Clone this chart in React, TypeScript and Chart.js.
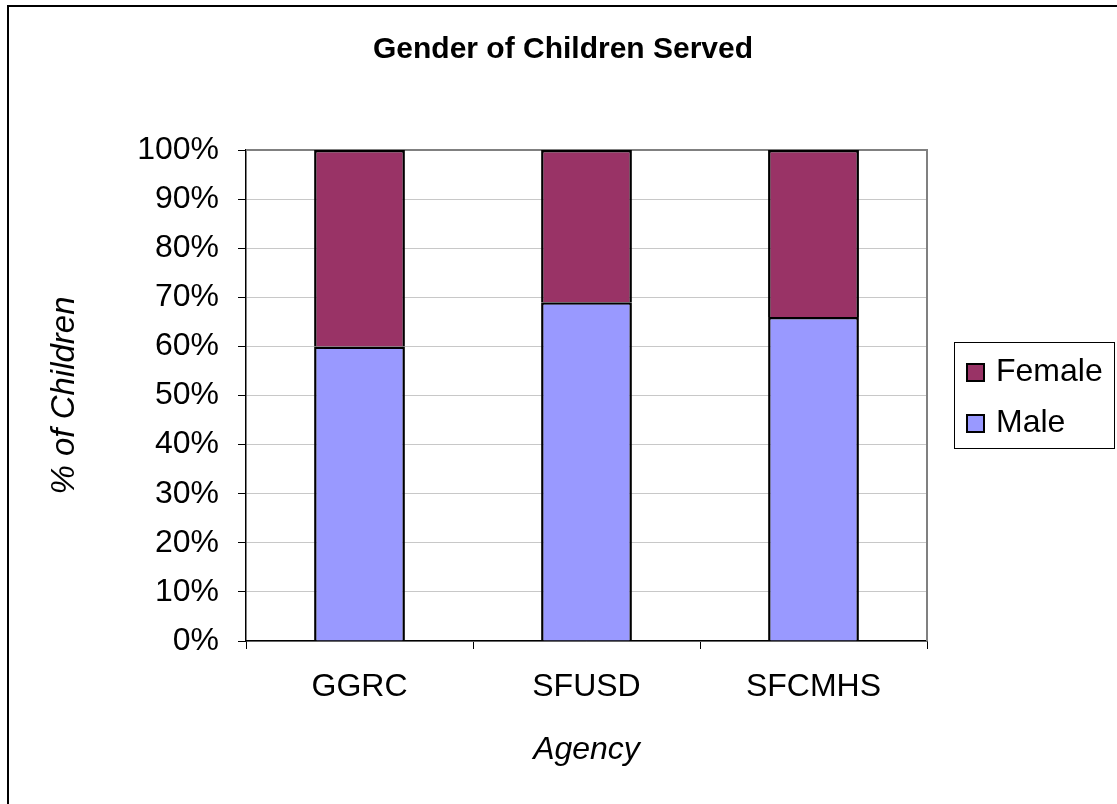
import React, { useEffect, useRef } from "react";
import { Chart, registerables } from "chart.js";

Chart.register(...registerables);

const categories = ["GGRC", "SFUSD", "SFCMHS"];
const maleValues = [60, 69, 66];
const femaleValues = [40, 31, 34];
const yTicks = [0, 10, 20, 30, 40, 50, 60, 70, 80, 90, 100];
const chartTitle = "Gender of Children Served";
const xTitle = "Agency";
const yTitle = "% of Children";

const FONT = "'Liberation Sans', Arial, sans-serif";

const framePlugin = {
  id: "frame",
  beforeDraw(chart: any) {
    const ctx = chart.ctx;
    ctx.save();
    ctx.fillStyle = "#ffffff";
    ctx.fillRect(0, 0, chart.width, chart.height);
    ctx.strokeStyle = "#000000";
    ctx.lineWidth = 2;
    ctx.strokeRect(8, 6, chart.width + 20, chart.height + 20);
    ctx.fillStyle = "#000";
    ctx.font = `bold 30px ${FONT}`;
    ctx.textAlign = "center";
    ctx.textBaseline = "middle";
    ctx.fillText(chartTitle, 563, 50);
    ctx.restore();
  },
  beforeDatasetsDraw(chart: any) {
    const { ctx, chartArea } = chart;
    ctx.save();
    ctx.strokeStyle = "#808080";
    ctx.lineWidth = 2;
    ctx.beginPath();
    ctx.moveTo(chartArea.left, chartArea.top);
    ctx.lineTo(chartArea.right, chartArea.top);
    ctx.lineTo(chartArea.right, chartArea.bottom);
    ctx.stroke();
    ctx.restore();
  },
  afterDraw(chart: any) {
    const ctx = chart.ctx;
    ctx.save();
    const bx = 954, by = 342, bw = 160, bh = 106;
    ctx.strokeStyle = "#000000";
    ctx.lineWidth = 1;
    ctx.strokeRect(bx + 0.5, by + 0.5, bw, bh);
    const items = chart.data.datasets
      .map((d: any) => ({ label: d.label, color: d.backgroundColor }))
      .reverse();
    ctx.font = `32px ${FONT}`;
    ctx.textBaseline = "middle";
    ctx.textAlign = "left";
    items.forEach((it: any, i: number) => {
      const cy = 371 + i * 51;
      ctx.fillStyle = it.color;
      ctx.fillRect(967, cy - 7, 17, 17);
      ctx.strokeStyle = "#000";
      ctx.lineWidth = 2;
      ctx.strokeRect(967, cy - 7, 17, 17);
      ctx.fillStyle = "#000";
      ctx.fillText(it.label, 996, cy + 1);
    });
    ctx.restore();
  },
};

export default function App() {
  const ref = useRef<HTMLCanvasElement | null>(null);
  useEffect(() => {
    document.body.style.margin = "0";
    document.body.style.overflow = "hidden";
    const chart = new Chart(ref.current as HTMLCanvasElement, {
      type: "bar",
      data: {
        labels: categories,
        datasets: [
          {
            label: "Male",
            data: maleValues,
            backgroundColor: "#9999FF",
            borderColor: "#000000",
            borderWidth: 2.5,
            barPercentage: 0.4,
            categoryPercentage: 1,
          },
          {
            label: "Female",
            data: femaleValues,
            backgroundColor: "#993366",
            borderColor: "#000000",
            borderWidth: 2.5,
            barPercentage: 0.4,
            categoryPercentage: 1,
          },
        ],
      },
      options: {
        responsive: false,
        animation: false,
        layout: { padding: { left: 0, right: 190, top: 150, bottom: 0 } },
        plugins: {
          legend: { display: false },
          tooltip: { enabled: false },
          title: { display: false },
        },
        scales: {
          x: {
            stacked: true,
            afterFit(scale: any) {
              scale.height = 163;
            },
            border: { color: "#000", width: 1.5 },
            grid: {
              offset: true,
              drawOnChartArea: false,
              drawTicks: true,
              tickLength: 8,
              tickColor: "#000",
            },
            ticks: {
              color: "#000",
              font: { family: FONT, size: 32 },
              padding: 19,
            },
            title: {
              display: true,
              text: xTitle,
              color: "#000",
              font: { family: FONT, size: 32, style: "italic" },
              padding: { top: 0, bottom: 34.8 },
            },
          },
          y: {
            stacked: true,
            min: 0,
            max: 100,
            afterFit(scale: any) {
              scale.width = 246;
            },
            afterBuildTicks(scale: any) {
              scale.ticks = yTicks.map((v) => ({ value: v }));
            },
            border: { color: "#000", width: 1.5 },
            grid: {
              color: "#c8c8c8",
              tickColor: "#000",
              tickLength: 8,
            },
            ticks: {
              color: "#000",
              font: { family: FONT, size: 32 },
              padding: 19,
              callback: (v: any) => `${v}%`,
            },
            title: {
              display: true,
              text: yTitle,
              color: "#000",
              font: { family: FONT, size: 33, style: "italic" },
              padding: { top: 45.2, bottom: 0 },
            },
          },
        },
      },
      plugins: [framePlugin],
    });
    return () => chart.destroy();
  }, []);
  return <canvas ref={ref} width={1117} height={804} style={{ display: "block" }} />;
}
